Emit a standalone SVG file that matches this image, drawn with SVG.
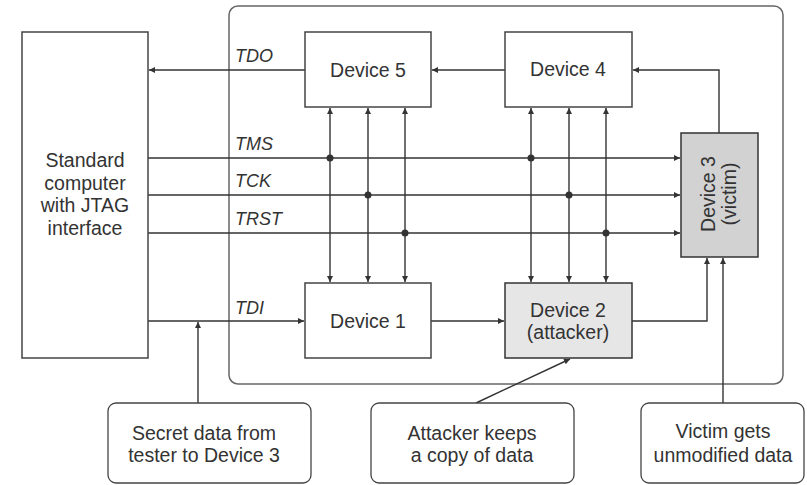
<svg xmlns="http://www.w3.org/2000/svg" width="807" height="485" viewBox="0 0 807 485">
  <defs>
    <marker id="arr" viewBox="0 0 10 10" refX="10" refY="5" markerWidth="8" markerHeight="6" markerUnits="userSpaceOnUse" orient="auto-start-reverse">
      <path d="M0,0 L10,5 L0,10 z" fill="#333"/>
    </marker>
    <style>
      .box { fill: #fff; stroke: #444; stroke-width: 1.5; }
      .frame { fill: none; stroke: #666; stroke-width: 1.5; }
      .hi1 { fill: #e6e6e6; stroke: #333; stroke-width: 1.5; }
      .hi2 { fill: #d2d2d2; stroke: #333; stroke-width: 1.5; }
      .note { fill: #fff; stroke: #444; stroke-width: 1.3; }
      .wire { fill: none; stroke: #333; stroke-width: 1.4; }
      .lbl { font-family: "Liberation Sans", Arial, sans-serif; font-size: 19.5px; fill: #333; text-anchor: middle; }
      .sig { font-family: "Liberation Sans", Arial, sans-serif; font-size: 18px; font-style: italic; fill: #333; }
      .dot { fill: #333; }
    </style>
  </defs>

  <rect width="807" height="485" fill="#fff"/>

  <!-- board outline -->
  <rect class="frame" x="229" y="6" width="554" height="378" rx="9"/>

  <!-- connectors -->
  <g id="connectors">
    <!-- TDO chain -->
    <line class="wire" x1="305" y1="70" x2="149" y2="70" marker-end="url(#arr)"/>
    <line class="wire" x1="505" y1="70" x2="432" y2="70" marker-end="url(#arr)"/>
    <polyline class="wire" points="719,133 719,70 633,70" marker-end="url(#arr)"/>
    <!-- TMS / TCK / TRST -->
    <line class="wire" x1="148" y1="158" x2="680" y2="158" marker-end="url(#arr)"/>
    <line class="wire" x1="148" y1="195" x2="680" y2="195" marker-end="url(#arr)"/>
    <line class="wire" x1="148" y1="233" x2="680" y2="233" marker-end="url(#arr)"/>
    <!-- vertical buses -->
    <g marker-start="url(#arr)" marker-end="url(#arr)">
      <line class="wire" x1="330" y1="108" x2="330" y2="282"/>
      <line class="wire" x1="368" y1="108" x2="368" y2="282"/>
      <line class="wire" x1="405" y1="108" x2="405" y2="282"/>
      <line class="wire" x1="531" y1="108" x2="531" y2="282"/>
      <line class="wire" x1="569" y1="108" x2="569" y2="282"/>
      <line class="wire" x1="606" y1="108" x2="606" y2="282"/>
    </g>
    <circle class="dot" cx="330" cy="158" r="3.5"/>
    <circle class="dot" cx="531" cy="158" r="3.5"/>
    <circle class="dot" cx="368" cy="195" r="3.5"/>
    <circle class="dot" cx="569" cy="195" r="3.5"/>
    <circle class="dot" cx="405" cy="233" r="3.5"/>
    <circle class="dot" cx="606" cy="233" r="3.5"/>
    <!-- TDI chain -->
    <line class="wire" x1="148" y1="321" x2="304" y2="321" marker-end="url(#arr)"/>
    <line class="wire" x1="431" y1="321" x2="504" y2="321" marker-end="url(#arr)"/>
    <polyline class="wire" points="632,321 707,321 707,258" marker-end="url(#arr)"/>
    <!-- notes -->
    <line class="wire" x1="198" y1="403" x2="198" y2="322" marker-end="url(#arr)"/>
    <line class="wire" x1="476" y1="403" x2="570" y2="359" marker-end="url(#arr)"/>
    <line class="wire" x1="723" y1="403" x2="723" y2="258" marker-end="url(#arr)"/>
  </g>

  <!-- signal names -->
  <text class="sig" x="235" y="62">TDO</text>
  <text class="sig" x="235" y="150">TMS</text>
  <text class="sig" x="235" y="187">TCK</text>
  <text class="sig" x="235" y="225">TRST</text>
  <text class="sig" x="235" y="314">TDI</text>

  <g id="computer">
    <rect class="box" x="22" y="32" width="126" height="326" stroke="#777"/>
    <text class="lbl" x="85" y="167">Standard</text>
    <text class="lbl" x="85" y="190">computer</text>
    <text class="lbl" x="85" y="212">with JTAG</text>
    <text class="lbl" x="85" y="235">interface</text>
  </g>

  <g id="device5">
    <rect class="box" x="305" y="32" width="126" height="75"/>
    <text class="lbl" x="368" y="77">Device 5</text>
  </g>

  <g id="device4">
    <rect class="box" x="505" y="32" width="127" height="75"/>
    <text class="lbl" x="568" y="76">Device 4</text>
  </g>

  <g id="device1">
    <rect class="box" x="305" y="283" width="126" height="75"/>
    <text class="lbl" x="368" y="328">Device 1</text>
  </g>

  <g id="device2">
    <rect class="hi1" x="505" y="283" width="127" height="75"/>
    <text class="lbl" x="568" y="317">Device 2</text>
    <text class="lbl" x="568" y="339">(attacker)</text>
  </g>

  <g id="device3">
    <rect class="hi2" x="681" y="133" width="77" height="124"/>
    <g transform="translate(719,194) rotate(-90)">
      <text class="lbl" x="0" y="-4">Device 3</text>
      <text class="lbl" x="0" y="17">(victim)</text>
    </g>
  </g>

  <g id="note-secret">
    <rect class="note" x="108" y="403" width="203" height="80" rx="8"/>
    <text class="lbl" x="204" y="440">Secret data from</text>
    <text class="lbl" x="204" y="462">tester to Device 3</text>
  </g>

  <g id="note-attacker">
    <rect class="note" x="371" y="403" width="203" height="80" rx="8"/>
    <text class="lbl" x="472" y="440">Attacker keeps</text>
    <text class="lbl" x="472" y="462">a copy of data</text>
  </g>

  <g id="note-victim">
    <rect class="note" x="641" y="403" width="163" height="80" rx="8"/>
    <text class="lbl" x="723" y="438">Victim gets</text>
    <text class="lbl" x="723" y="462">unmodified data</text>
  </g>
</svg>
